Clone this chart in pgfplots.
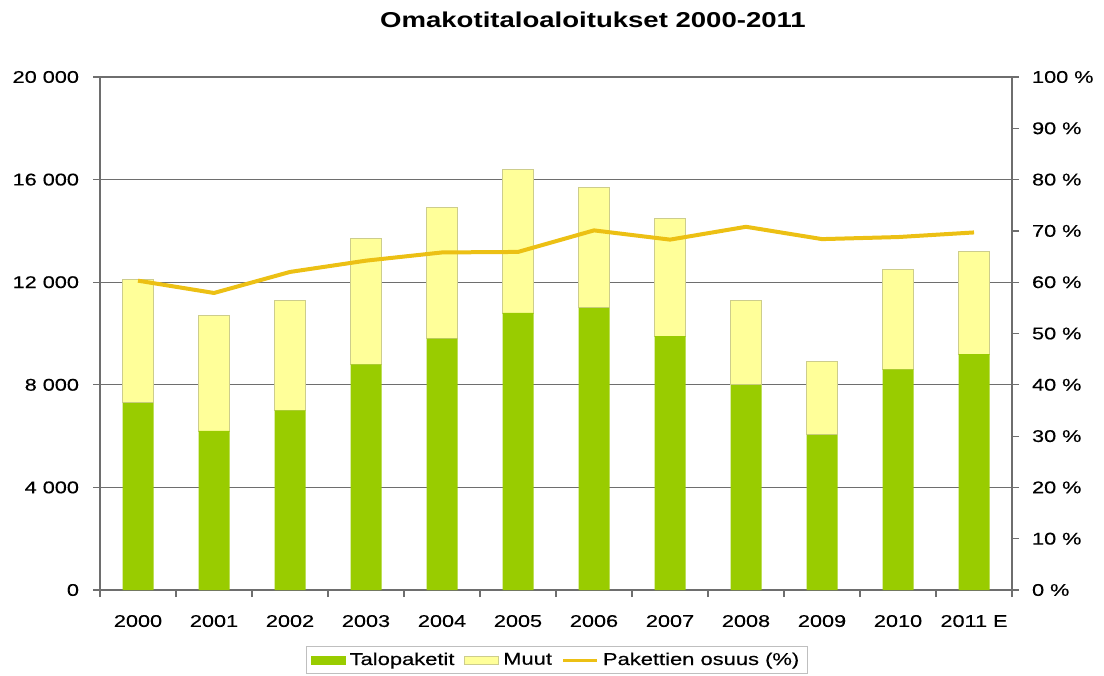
\documentclass[border=0pt]{standalone}
\usepackage{pgfplots}
\usepackage{pgfplotstable}
\pgfplotsset{compat=1.18}
\usepackage{fontspec}
\setmainfont{Liberation Sans}[FakeStretch=1.28]
\newfontfamily\labelfont{Liberation Sans}[FakeStretch=1.28, FakeBold=0.4]

\definecolor{paketti}{RGB}{153,204,0}
\definecolor{muut}{RGB}{255,255,153}
\definecolor{muutedge}{RGB}{205,205,140}
\definecolor{osuus}{RGB}{236,192,20}
\definecolor{viiva}{RGB}{110,110,110}

% Omakotitaloaloitukset: talopaketit, muut ja pakettien osuus (%)
\pgfplotstableread{
x  talo  muut  osuus
0  7300  4800  60.3
1  6200  4500  57.9
2  7000  4300  62.0
3  8800  4900  64.2
4  9800  5100  65.8
5  10800 5600  65.9
6  11000 4700  70.1
7  9900  4600  68.3
8  8000  3300  70.8
9  6050  2850  68.4
10 8600  3900  68.8
11 9200  4000  69.7
}\aloitukset

\begin{document}
\begin{tikzpicture}[x=1bp,y=1bp]
\useasboundingbox (0,0) rectangle (552,337.5);
\node[font=\bfseries\fontsize{10.8}{12}\selectfont] at (296.5,327.5) {Omakotitaloaloitukset 2000-2011};

\begin{axis}[
  at={(50bp,42.5bp)}, anchor=south west,
  scale only axis, width=456bp, height=256.5bp,
  xmin=-0.5, xmax=11.5, ymin=0, ymax=20000,
  scaled y ticks=false,
  ybar stacked, bar width=15.5bp,
  axis x line*=bottom, axis y line*=left,
  axis line style={-, draw=viiva, line width=0.6bp},
  tick align=outside, major tick length=3.5bp, minor tick length=3.5bp,
  tick style={draw=viiva, line width=0.6bp},
  xtick={0,...,11},
  xticklabels={2000,2001,2002,2003,2004,2005,2006,2007,2008,2009,2010,2011 E},
  major x tick style={draw=none},
  minor xtick={-0.5,0.5,...,11.5},
  ytick={0,4000,...,20000},
  yticklabels={0,4 000,8 000,12 000,16 000,20 000},
  ymajorgrids, grid style={draw=viiva, line width=0.6bp},
  ticklabel style={font=\labelfont\fontsize{8.5}{10}\selectfont, text=black},
  xticklabel style={yshift=-5.5bp},
  yticklabel style={xshift=-3.5bp},
]
\addplot[fill=paketti, draw=none] table[x=x, y=talo] {\aloitukset};
\addplot[fill=muut, draw=muutedge, line width=0.4bp] table[x=x, y=muut] {\aloitukset};
\end{axis}

\begin{axis}[
  at={(50bp,42.5bp)}, anchor=south west,
  scale only axis, width=456bp, height=256.5bp,
  xmin=-0.5, xmax=11.5, ymin=0, ymax=100,
  scaled y ticks=false,
  axis x line=none, axis y line*=right,
  axis line style={-, draw=viiva, line width=0.6bp},
  tick align=outside, major tick length=3.5bp,
  tick style={draw=viiva, line width=0.6bp},
  ytick={0,10,...,100},
  yticklabels={0 \%,10 \%,20 \%,30 \%,40 \%,50 \%,60 \%,70 \%,80 \%,90 \%,100 \%},
  ticklabel style={font=\labelfont\fontsize{8.5}{10}\selectfont, text=black},
  yticklabel style={xshift=3bp},
  legend columns=3,
  legend style={at={(axis description cs:0.501,-0.137)}, anchor=center,
    draw=black!25, line width=0.5bp, font=\labelfont\fontsize{8.6}{10}\selectfont,
    inner xsep=2bp, inner ysep=1bp,
    /tikz/every odd column/.append style={column sep=0bp},
    /tikz/every even column/.append style={column sep=3bp}},
]
\addlegendimage{legend image code/.code={\fill[paketti] (0bp,-2bp) rectangle (17bp,2bp);}}
\addlegendentry{Talopaketit}
\addlegendimage{legend image code/.code={\filldraw[fill=muut, draw=muutedge, line width=0.4bp] (0bp,-2bp) rectangle (17bp,2bp);}}
\addlegendentry{Muut}
\addlegendimage{legend image code/.code={\draw[osuus, line width=1.5bp] (0bp,0bp) -- (17bp,0bp);}}
\addlegendentry{Pakettien osuus (\%)}
\addplot[osuus, line width=2bp, line join=round, forget plot] table[x=x, y=osuus] {\aloitukset};
\end{axis}
\end{tikzpicture}
\end{document}
